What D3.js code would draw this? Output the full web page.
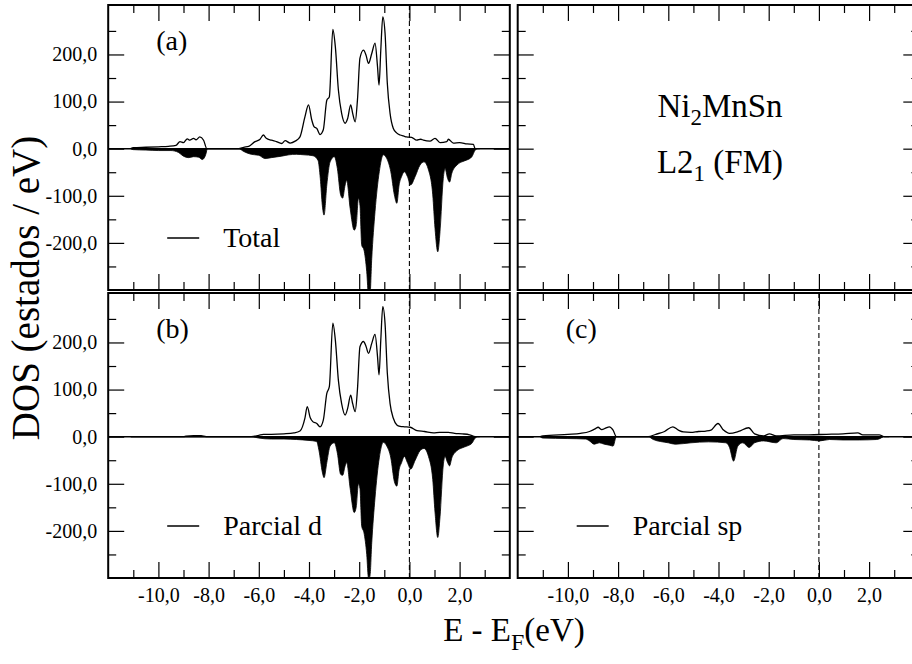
<!DOCTYPE html>
<html><head><meta charset="utf-8">
<script src="https://cdn.jsdelivr.net/npm/d3@7"></script>
<style>
body{margin:0;background:#fff}
svg{display:block}
text{font-family:"Liberation Serif","Times New Roman",Times,serif;fill:#000}
</style>
</head><body>
<svg id="c" width="912" height="664"></svg>
<script>
// ---------- DATA (energy eV, DOS states/eV) ----------
const totalUp = [[-11.1,0],[-11.0,2],[-10.5,3],[-10.0,4],[-9.6,5],[-9.3,7],[-9.14,15],[-9.0,13],[-8.85,21],[-8.75,18],[-8.6,22],[-8.5,19],[-8.35,25],[-8.2,18],[-8.07,0],[-6.8,0],[-6.6,3],[-6.4,5],[-6.15,15],[-5.95,20],[-5.82,29],[-5.7,22],[-5.5,18],[-5.3,15],[-5.09,11],[-4.95,17],[-4.75,12],[-4.55,16],[-4.36,25],[-4.16,68],[-4.02,93],[-3.89,61],[-3.80,47],[-3.69,43],[-3.56,30],[-3.43,40],[-3.29,103],[-3.19,110],[-3.05,253],[-2.95,216],[-2.83,125],[-2.70,75],[-2.56,54],[-2.46,64],[-2.34,93],[-2.26,75],[-2.16,57],[-2.07,103],[-1.97,192],[-1.83,209],[-1.73,199],[-1.63,181],[-1.50,202],[-1.37,224],[-1.27,174],[-1.21,135],[-1.14,209],[-1.06,280],[-0.97,245],[-0.88,139],[-0.77,75],[-0.64,43],[-0.50,33],[-0.37,29],[-0.24,27],[-0.11,25],[0.09,24],[0.29,18],[0.45,20],[0.56,18],[0.82,16],[1.02,22],[1.22,13],[1.49,15],[1.55,20],[1.75,12],[2.0,13],[2.3,10],[2.55,9],[2.62,0],[2.8,0]];
const totalDn = [[-11.1,0],[-11.0,-2],[-10.5,-3],[-10.0,-4],[-9.5,-4],[-9.2,-8],[-9.0,-16],[-8.8,-19],[-8.6,-17],[-8.4,-18],[-8.25,-23],[-8.1,-10],[-8.05,0],[-6.8,0],[-6.6,-6],[-6.3,-12],[-6.0,-14],[-5.75,-21],[-5.5,-19],[-5.1,-16],[-4.8,-13],[-4.5,-12],[-4.2,-13],[-3.84,-15],[-3.64,-25],[-3.55,-63],[-3.47,-120],[-3.40,-141],[-3.29,-77],[-3.16,-28],[-2.99,-17],[-2.87,-42],[-2.74,-98],[-2.66,-105],[-2.56,-77],[-2.50,-67],[-2.36,-127],[-2.20,-173],[-2.12,-163],[-2.03,-105],[-1.97,-120],[-1.90,-205],[-1.81,-215],[-1.70,-261],[-1.63,-310],[-1.57,-310],[-1.50,-233],[-1.37,-134],[-1.20,-49],[-1.04,-13],[-0.90,-21],[-0.74,-49],[-0.60,-98],[-0.50,-116],[-0.41,-77],[-0.31,-59],[-0.20,-49],[-0.08,-59],[0.05,-77],[0.23,-59],[0.42,-35],[0.58,-28],[0.76,-45],[0.93,-98],[1.02,-169],[1.13,-219],[1.22,-176],[1.35,-63],[1.42,-42],[1.52,-63],[1.60,-71],[1.69,-52],[1.89,-35],[2.09,-28],[2.29,-24],[2.49,-17],[2.62,-3],[2.69,0]];
const dUp = [[-11.1,0],[-9.0,0],[-8.9,1],[-8.6,2],[-8.3,2],[-8.1,0],[-6.3,0],[-6.0,3],[-5.82,5],[-5.5,5],[-5.0,6],[-4.6,8],[-4.36,12],[-4.16,40],[-4.07,64],[-3.95,40],[-3.85,32],[-3.69,28],[-3.56,21],[-3.43,35],[-3.29,92],[-3.19,106],[-3.05,241],[-2.95,205],[-2.83,120],[-2.70,70],[-2.56,46],[-2.46,60],[-2.34,88],[-2.26,70],[-2.16,53],[-2.07,100],[-1.97,191],[-1.83,202],[-1.73,192],[-1.63,177],[-1.50,198],[-1.37,217],[-1.27,170],[-1.21,131],[-1.14,205],[-1.06,276],[-0.97,240],[-0.88,135],[-0.77,70],[-0.64,39],[-0.50,25],[-0.37,22],[-0.2,21],[0.03,20],[0.3,13],[0.6,11],[0.96,8],[1.2,9],[1.55,9],[1.8,7],[2.1,6],[2.4,4],[2.62,0],[2.8,0]];
const dDn = [[-11.1,0],[-6.3,0],[-6.0,-3],[-5.5,-5],[-5.0,-5],[-4.5,-6],[-4.0,-8],[-3.7,-10],[-3.6,-30],[-3.47,-75],[-3.40,-87],[-3.29,-55],[-3.16,-20],[-2.99,-13],[-2.87,-35],[-2.74,-80],[-2.66,-82],[-2.56,-62],[-2.50,-55],[-2.36,-110],[-2.20,-161],[-2.12,-150],[-2.03,-100],[-1.97,-110],[-1.90,-190],[-1.81,-204],[-1.70,-250],[-1.63,-300],[-1.57,-296],[-1.50,-225],[-1.37,-130],[-1.20,-45],[-1.04,-12],[-0.90,-20],[-0.74,-45],[-0.60,-95],[-0.50,-105],[-0.41,-70],[-0.31,-55],[-0.20,-42],[-0.08,-55],[0.05,-69],[0.23,-50],[0.42,-30],[0.58,-25],[0.76,-42],[0.93,-91],[1.02,-160],[1.13,-214],[1.22,-170],[1.35,-60],[1.42,-42],[1.52,-55],[1.60,-62],[1.69,-45],[1.89,-30],[2.09,-24],[2.29,-20],[2.49,-14],[2.62,-3],[2.69,0]];
const spUp = [[-11.1,0],[-11.0,1.5],[-10.0,5],[-9.5,7],[-9.14,11],[-8.9,17],[-8.8,20],[-8.65,15],[-8.5,18],[-8.35,21],[-8.2,14],[-8.07,0],[-6.8,0],[-6.5,5],[-6.15,11],[-5.82,21],[-5.6,14],[-5.4,10],[-5.1,9],[-4.8,11],[-4.5,12],[-4.3,14],[-4.02,28],[-3.8,14],[-3.56,7],[-3.2,11],[-2.8,19],[-2.56,6],[-2.2,1.5],[-1.97,6],[-1.7,1.5],[-1.0,4],[-0.4,4],[0.3,5],[0.96,6],[1.55,8],[1.75,4],[2.4,4],[2.62,0],[2.8,0]];
const spDn = [[-11.1,0],[-11.0,-3],[-10.0,-4],[-9.3,-5],[-9.14,-9],[-8.95,-16],[-8.75,-13],[-8.55,-16],[-8.35,-18],[-8.2,-20],[-8.07,0],[-6.8,0],[-6.6,-6],[-6.0,-13],[-5.72,-16],[-5.1,-13],[-4.4,-11],[-3.7,-13],[-3.56,-23],[-3.40,-52],[-3.23,-20],[-3.03,-13],[-2.78,-23],[-2.56,-13],[-2.2,-9],[-1.7,-13],[-1.43,-4],[-1.0,-6],[-0.37,-7],[0.03,-9],[0.42,-6],[0.96,-7],[1.62,-7],[2.3,-6],[2.56,0]];

const xMajor = [-10,-8,-6,-4,-2,0,2];
const xMajorLabels = ["-10,0","-8,0","-6,0","-4,0","-2,0","0,0","2,0"];
const xMinor = [-11,-9,-7,-5,-3,-1,1,3];
const yMajor = [-200,-100,0,100,200];
const yMajorLabels = ["-200,0","-100,0","0,0","100,0","200,0"];
const yMinor = [-250,-150,-50,50,150,250];

// ---------- LAYOUT ----------
const svg = d3.select("#c");
const xDom = [-12, 4], yDom = [-300, 305];
const colL = [108.2, 509.8], colR = [517.7, 919.3];
const rowT = [5, 290], rowB = [293, 578];

const panels = [
  {key:"a", cols:colL, rows:rowT, up:totalUp, dn:totalDn, label:"(a)", legend:"Total", xl:false, yl:true},
  {key:"n", cols:colR, rows:rowT, up:null, dn:null, label:null, legend:null, xl:false, yl:false},
  {key:"b", cols:colL, rows:rowB, up:dUp, dn:dDn, label:"(b)", legend:"Parcial d", xl:true, yl:true},
  {key:"c", cols:colR, rows:rowB, up:spUp, dn:spDn, label:"(c)", legend:"Parcial sp", xl:true, yl:false}
];

const FS_TICK = 20;

panels.forEach(p => {
  const x = d3.scaleLinear().domain(xDom).range(p.cols);
  const y = d3.scaleLinear().domain(yDom).range([p.rows[1], p.rows[0]]);
  const g = svg.append("g");
  const clipId = "clip-" + p.key;
  g.append("clipPath").attr("id", clipId).append("rect")
    .attr("x", p.cols[0]).attr("y", p.rows[0])
    .attr("width", p.cols[1]-p.cols[0]).attr("height", p.rows[1]-p.rows[0]);

  const inner = g.append("g").attr("clip-path", `url(#${clipId})`);
  if (p.up) {
    inner.append("line").attr("x1", p.cols[0]).attr("x2", p.cols[1])
      .attr("y1", y(0)).attr("y2", y(0)).attr("stroke", "#000").attr("stroke-width", 1.6);
    inner.append("line").attr("x1", x(0)).attr("x2", x(0))
      .attr("y1", p.rows[0]).attr("y2", p.rows[1])
      .attr("stroke", "#000").attr("stroke-width", 1.1).attr("stroke-dasharray", "5,3");
    const area = d3.area().x(d => x(d[0])).y0(y(0)).y1(d => y(d[1])).curve(d3.curveMonotoneX);
    inner.append("path").datum(p.dn).attr("d", area).attr("fill", "#000").attr("stroke", "#000").attr("stroke-width", 0.8);
    const line = d3.line().x(d => x(d[0])).y(d => y(d[1])).curve(d3.curveMonotoneX);
    inner.append("path").datum(p.up).attr("d", line).attr("fill", "none").attr("stroke", "#000").attr("stroke-width", 1.3);
  }

  function styleAxis(sel) {
    sel.select(".domain").remove();
    sel.selectAll(".tick line").attr("stroke", "#000").attr("stroke-width", 1.2);
    sel.attr("font-family", null).attr("font-size", null);
    sel.selectAll("text").attr("font-size", FS_TICK).attr("fill", "#000");
  }
  const bMaj = d3.axisBottom(x).tickValues(xMajor).tickSize(-16).tickPadding(10)
    .tickFormat((d,i) => p.xl ? xMajorLabels[i] : "");
  g.append("g").attr("transform", `translate(0,${p.rows[1]})`).call(bMaj).call(styleAxis);
  g.append("g").attr("transform", `translate(0,${p.rows[1]})`)
    .call(d3.axisBottom(x).tickValues(xMinor).tickSize(-8).tickFormat("")).call(styleAxis);
  g.append("g").attr("transform", `translate(0,${p.rows[0]})`)
    .call(d3.axisTop(x).tickValues(xMajor).tickSize(-16).tickFormat("")).call(styleAxis);
  g.append("g").attr("transform", `translate(0,${p.rows[0]})`)
    .call(d3.axisTop(x).tickValues(xMinor).tickSize(-8).tickFormat("")).call(styleAxis);
  const lMaj = d3.axisLeft(y).tickValues(yMajor).tickSize(-16).tickPadding(11)
    .tickFormat((d,i) => p.yl ? yMajorLabels[i] : "");
  g.append("g").attr("transform", `translate(${p.cols[0]},0)`).call(lMaj).call(styleAxis);
  g.append("g").attr("transform", `translate(${p.cols[0]},0)`)
    .call(d3.axisLeft(y).tickValues(yMinor).tickSize(-8).tickFormat("")).call(styleAxis);
  g.append("g").attr("transform", `translate(${p.cols[1]},0)`)
    .call(d3.axisRight(y).tickValues(yMajor).tickSize(-16).tickFormat("")).call(styleAxis);
  g.append("g").attr("transform", `translate(${p.cols[1]},0)`)
    .call(d3.axisRight(y).tickValues(yMinor).tickSize(-8).tickFormat("")).call(styleAxis);

  g.append("rect").attr("x", p.cols[0]).attr("y", p.rows[0])
    .attr("width", p.cols[1]-p.cols[0]).attr("height", p.rows[1]-p.rows[0])
    .attr("fill", "none").attr("stroke", "#000").attr("stroke-width", 2);

  if (p.label) {
    g.append("text").attr("x", p.cols[0] + 48).attr("y", p.rows[0] + 45)
      .attr("font-size", 28).text(p.label);
  }
  if (p.legend) {
    const ly = p.rows[0] + 233;
    g.append("line").attr("x1", p.cols[0] + 59).attr("x2", p.cols[0] + 91)
      .attr("y1", ly).attr("y2", ly).attr("stroke", "#000").attr("stroke-width", 1.3);
    g.append("text").attr("x", p.cols[0] + 115).attr("y", ly + 9)
      .attr("font-size", 28).text(p.legend);
  }
  if (p.key === "n") {
    const t1 = g.append("text").attr("x", 720).attr("y", 117).attr("text-anchor", "middle").attr("font-size", 33);
    t1.append("tspan").text("Ni");
    t1.append("tspan").attr("dy", 8).attr("font-size", 23).text("2");
    t1.append("tspan").attr("dy", -8).text("MnSn");
    const t2 = g.append("text").attr("x", 720).attr("y", 173).attr("text-anchor", "middle").attr("font-size", 33);
    t2.append("tspan").text("L2");
    t2.append("tspan").attr("dy", 8).attr("font-size", 23).text("1");
    t2.append("tspan").attr("dy", -8).text(" (FM)");
  }
});

const xt = svg.append("text").attr("x", 514).attr("y", 641).attr("text-anchor", "middle").attr("font-size", 33);
xt.append("tspan").text("E - E");
xt.append("tspan").attr("dy", 9).attr("font-size", 24).text("F");
xt.append("tspan").attr("dy", -9).text("(eV)");

svg.append("text").attr("transform", "translate(39,288) rotate(-90)")
  .attr("text-anchor", "middle").attr("font-size", 39).text("DOS (estados / eV)");
</script>
</body></html>
